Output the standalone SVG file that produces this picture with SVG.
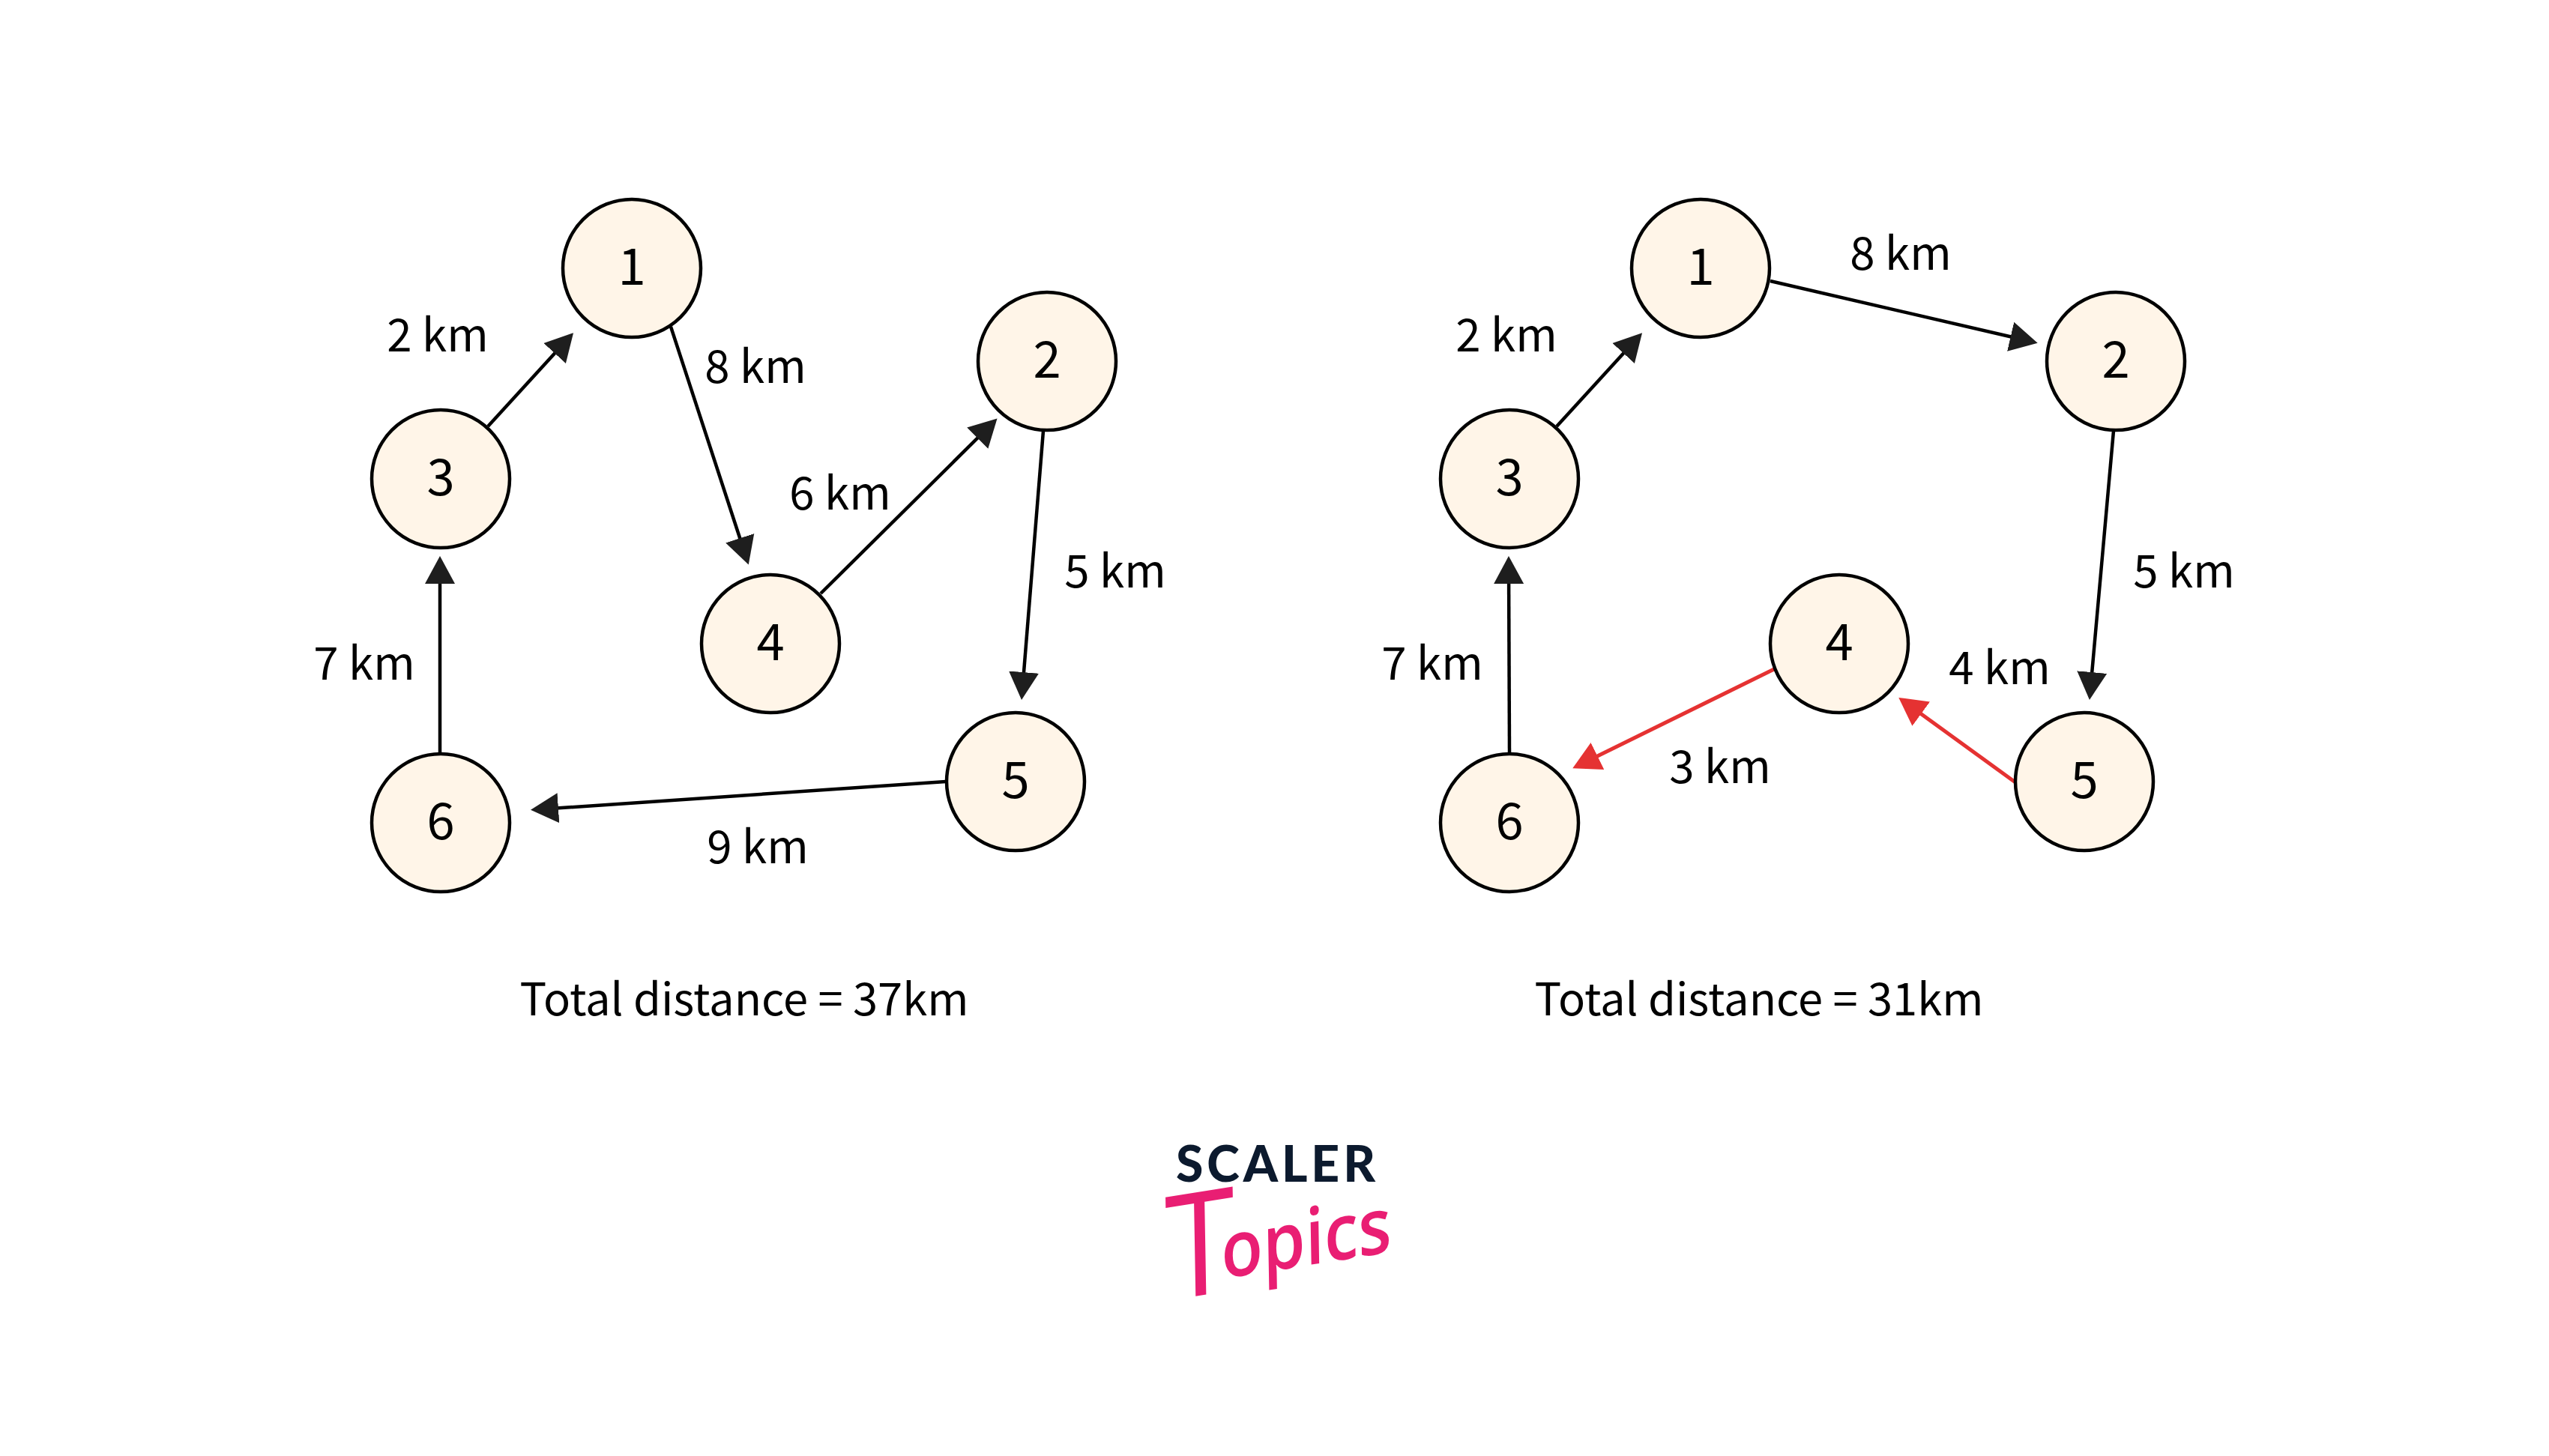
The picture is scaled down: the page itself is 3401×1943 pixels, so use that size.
<svg xmlns="http://www.w3.org/2000/svg" width="3401" height="1943" viewBox="0 0 3401 1943">
<style>
text{font-family:"Noto Sans CJK JP","Noto Sans",sans-serif;font-size:60px;fill:#000;text-anchor:middle}
.n circle{fill:#fff5e8;stroke:#000;stroke-width:4.500}
.n text{font-size:67px}
.c line{stroke:#000;stroke-width:4.500}
.c line.r{stroke:#e53232;stroke-width:5}
.total{font-size:59.700px}
</style>
<defs>
<marker id="a" markerUnits="userSpaceOnUse" markerWidth="38" markerHeight="42" refX="25" refY="21" orient="auto" viewBox="0 0 38 42"><path d="M0 1L37 21L0 41Z" fill="#1e1e1e"/></marker>
<marker id="ar" markerUnits="userSpaceOnUse" markerWidth="38" markerHeight="42" refX="25" refY="21" orient="auto" viewBox="0 0 38 42"><path d="M0 1L37 21L0 41Z" fill="#e53232"/></marker>
</defs>
<rect width="3401" height="1943" fill="#fff"/>
<g id="connectors" class="c">
<line x1="651" y1="569" x2="757" y2="453" marker-end="url(#a)"/>
<line x1="895" y1="436" x2="995" y2="742" marker-end="url(#a)"/>
<line x1="1095" y1="792" x2="1322" y2="567" marker-end="url(#a)"/>
<line x1="1392" y1="575" x2="1364" y2="922" marker-end="url(#a)"/>
<line x1="1262" y1="1043" x2="720" y2="1080" marker-end="url(#a)"/>
<line x1="587" y1="1006" x2="587" y2="754" marker-end="url(#a)"/>
<line x1="2077" y1="569" x2="2183" y2="453" marker-end="url(#a)"/>
<line x1="2362" y1="375" x2="2707" y2="455" marker-end="url(#a)"/>
<line x1="2820" y1="575" x2="2789" y2="922" marker-end="url(#a)"/>
<line x1="2014" y1="1006" x2="2013" y2="754" marker-end="url(#a)"/>
<line class="r" x1="2367" y1="893" x2="2109" y2="1020" marker-end="url(#ar)"/>
<line class="r" x1="2689" y1="1044" x2="2543" y2="938" marker-end="url(#ar)"/>
</g>
<g id="left-1" class="n"><circle cx="843" cy="358" r="92"/><text x="843" y="380">1</text></g>
<g id="left-2" class="n"><circle cx="1397" cy="482" r="92"/><text x="1397" y="504">2</text></g>
<g id="left-3" class="n"><circle cx="588" cy="639" r="92"/><text x="588" y="661">3</text></g>
<g id="left-4" class="n"><circle cx="1028" cy="859" r="92"/><text x="1028" y="881">4</text></g>
<g id="left-5" class="n"><circle cx="1355" cy="1043" r="92"/><text x="1355" y="1065">5</text></g>
<g id="left-6" class="n"><circle cx="588" cy="1098" r="92"/><text x="588" y="1120">6</text></g>
<g id="right-1" class="n"><circle cx="2269" cy="358" r="92"/><text x="2269" y="380">1</text></g>
<g id="right-2" class="n"><circle cx="2823" cy="482" r="92"/><text x="2823" y="504">2</text></g>
<g id="right-3" class="n"><circle cx="2014" cy="639" r="92"/><text x="2014" y="661">3</text></g>
<g id="right-4" class="n"><circle cx="2454" cy="859" r="92"/><text x="2454" y="881">4</text></g>
<g id="right-5" class="n"><circle cx="2781" cy="1043" r="92"/><text x="2781" y="1065">5</text></g>
<g id="right-6" class="n"><circle cx="2014" cy="1098" r="92"/><text x="2014" y="1120">6</text></g>
<g id="labels">
<text x="584" y="469">2 km</text>
<text x="1008" y="511">8 km</text>
<text x="1121" y="680">6 km</text>
<text x="1488" y="784">5 km</text>
<text x="486" y="907">7 km</text>
<text x="1011" y="1152">9 km</text>
<text x="2010" y="469">2 km</text>
<text x="2536" y="360">8 km</text>
<text x="2914" y="784">5 km</text>
<text x="1911" y="907">7 km</text>
<text x="2668" y="913">4 km</text>
<text x="2295" y="1045">3 km</text>
<text class="total" x="993" y="1355">Total distance = 37km</text>
<text class="total" x="2347" y="1355">Total distance = 31km</text>
</g>
<g id="logo">
<text x="1702" y="1577" style="font-family:Lato,sans-serif;font-weight:900;font-size:66px;fill:#0c1a2e" textLength="266" lengthAdjust="spacing">SCALER</text>
<text transform="translate(1556,1736) rotate(-9) skewX(-8) scale(.980,1.100)" style="font-family:'Open Sans',sans-serif;font-weight:400;font-size:174px;fill:#e91e73;text-anchor:start">T<tspan dx="-19" dy="-16" style="font-size:94px;font-weight:600">opics</tspan></text>
</g>
</svg>
